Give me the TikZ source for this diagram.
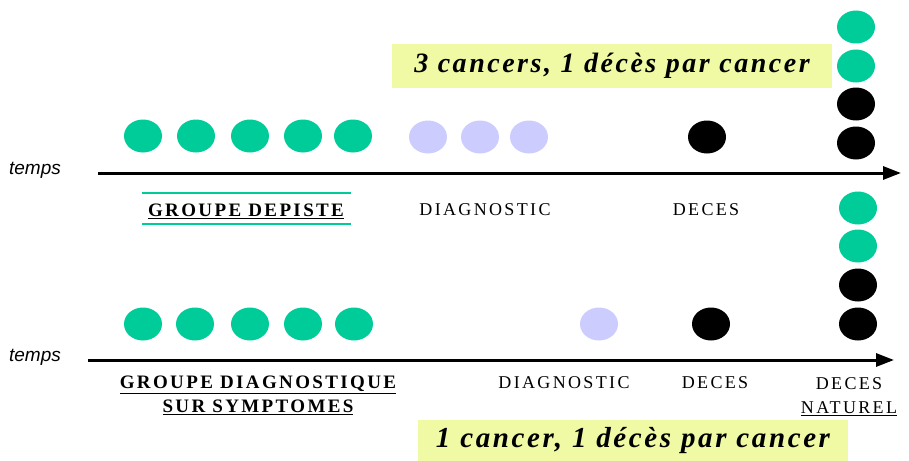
\documentclass[tikz,border=0pt]{standalone}
\usepackage{fontspec}
\setmainfont{Liberation Serif}
\newfontfamily\arialf{Liberation Sans}
\usetikzlibrary{shapes.geometric,arrows.meta}
\definecolor{dotgreen}{RGB}{0,204,153}
\definecolor{dotlav}{RGB}{204,204,255}
\definecolor{boxyellow}{RGB}{240,250,165}
\begin{document}
\begin{tikzpicture}[x=1pt,y=-1pt,
  dot/.style={ellipse, inner sep=0pt, minimum width=38pt, minimum height=33pt},
  gdot/.style={dot, fill=dotgreen},
  ldot/.style={dot, fill=dotlav},
  bdot/.style={dot, fill=black},
  lbl/.style={inner sep=0pt, font=\fontsize{18}{24}\selectfont\addfontfeatures{LetterSpace=13}},
  blbl/.style={inner sep=0pt, align=center, font=\fontsize{19}{24}\selectfont\bfseries\addfontfeatures{LetterSpace=12.5}},
  tlbl/.style={inner sep=0pt, font=\fontsize{19}{22}\selectfont\arialf\itshape},
  ybox/.style={fill=boxyellow, inner sep=0pt, font=\fontsize{28}{30}\selectfont\bfseries\itshape\addfontfeatures{LetterSpace=9}},
  timeaxis/.style={line width=3pt, -{Triangle[length=18pt,width=13pt]}}]
\useasboundingbox (0,0) rectangle (909,460);
% top group
\node[gdot] (t1) at (143,136) {};
\node[gdot] (t2) at (196,136) {};
\node[gdot] (t3) at (250,136) {};
\node[gdot] (t4) at (303,136) {};
\node[gdot] (t5) at (353,136) {};
\node[ldot] (tl1) at (428,137) {};
\node[ldot] (tl2) at (480,137) {};
\node[ldot] (tl3) at (529,137) {};
\node[bdot] (tb) at (707,137) {};
\node[gdot] (r1) at (856,27) {};
\node[gdot] (r2) at (856,66) {};
\node[bdot] (r3) at (856,104) {};
\node[bdot] (r4) at (856,143) {};
\node[ybox, minimum width=440pt, minimum height=43pt] (box1) at (612,66) {3 cancers, 1 décès par cancer};
\node[tlbl] (temps1) at (35,170) {temps};
\coordinate (a1s) at (98,173);
\coordinate (a1e) at (901,173);
\draw[timeaxis] (a1s) -- (a1e);
\node[blbl] (gdep) at (246,211) {\underline{GROUPE DEPISTE}};
\draw[dotgreen, line width=1.2pt] (142,193) -- (351,193);
\draw[dotgreen, line width=1.2pt] (142,224) -- (351,224);
\node[lbl] (diag1) at (485,210) {DIAGNOSTIC};
\node[lbl] (dec1) at (706,210) {DECES};
% bottom group
\node[gdot] (s1) at (143,324) {};
\node[gdot] (s2) at (195,324) {};
\node[gdot] (s3) at (250,324) {};
\node[gdot] (s4) at (303,324) {};
\node[gdot] (s5) at (354,324) {};
\node[ldot] (sl1) at (599,324) {};
\node[bdot] (sb) at (711,324) {};
\node[gdot] (q1) at (858,208) {};
\node[gdot] (q2) at (858,246) {};
\node[bdot] (q3) at (858,285) {};
\node[bdot] (q4) at (858,324) {};
\node[tlbl] (temps2) at (35,357) {temps};
\coordinate (a2s) at (88,360);
\coordinate (a2e) at (894,360);
\draw[timeaxis] (a2s) -- (a2e);
\node[blbl, anchor=north] (gdiag) at (258,376) {\underline{GROUPE DIAGNOSTIQUE}\\\underline{SUR SYMPTOMES}};
\node[lbl] (diag2) at (564,383) {DIAGNOSTIC};
\node[lbl] (dec2) at (715,383) {DECES};
\node[lbl, align=center, anchor=north] (decnat) at (849,377) {DECES\\\underline{NATUREL}};
\node[ybox, minimum width=430pt, minimum height=42pt, font=\fontsize{29}{30}\selectfont\bfseries\itshape\addfontfeatures{LetterSpace=9}] (box2) at (633,441) {1 cancer, 1 décès par cancer\hspace{8pt}};
\end{tikzpicture}
\end{document}
